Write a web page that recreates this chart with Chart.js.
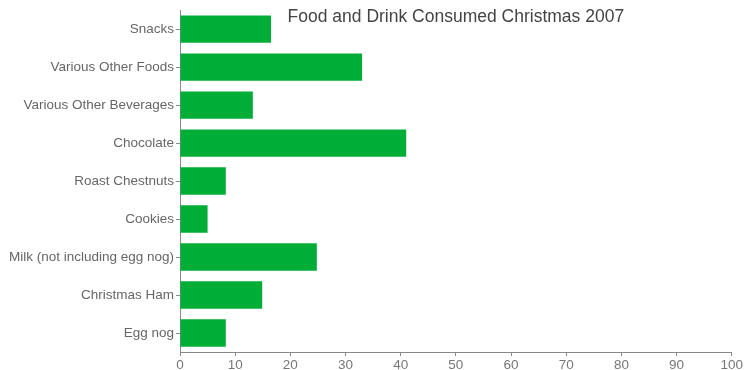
<!DOCTYPE html>
<html>
<head>
<meta charset="utf-8">
<script src="https://cdn.jsdelivr.net/npm/chart.js@4"></script>
<style>
  html, body { margin: 0; padding: 0; background: #fff; }
  #wrap { width: 744px; height: 370px; }
</style>
</head>
<body>
<div id="wrap"><canvas id="chart" width="744" height="370"></canvas></div>
<script>
const categories = [
  "Snacks",
  "Various Other Foods",
  "Various Other Beverages",
  "Chocolate",
  "Roast Chestnuts",
  "Cookies",
  "Milk (not including egg nog)",
  "Christmas Ham",
  "Egg nog"
];
const consumed = [16.5, 33, 13.2, 41, 8.3, 5, 24.8, 14.9, 8.3];
const xTicks = [0, 10, 20, 30, 40, 50, 60, 70, 80, 90, 100];
const chartTitle = "Food and Drink Consumed Christmas 2007";

/* ---------------- TITLE INSIDE PLOT ---------------- */
const innerTitle = {
  id: "innerTitle",
  afterDraw(chart) {
    const { ctx, chartArea } = chart;
    ctx.save();
    ctx.font = "17.5px 'Liberation Sans', Arial, sans-serif";
    ctx.fillStyle = "#444";
    ctx.textAlign = "center";
    ctx.textBaseline = "middle";
    ctx.fillText(chartTitle, (chartArea.left + chartArea.right) / 2, 17);
    ctx.restore();
  },
};

const tickFont = { family: "'Liberation Sans', Arial, sans-serif", size: 13.5 };

new Chart(document.getElementById("chart"), {
  type: "bar",
  data: {
    labels: categories,
    datasets: [
      {
        data: consumed,
        backgroundColor: "#00ad36",
        borderWidth: 0,
        categoryPercentage: 1,
        barPercentage: 0.72,
      },
    ],
  },
  options: {
    indexAxis: "y",
    responsive: false,
    animation: false,
    layout: { padding: { top: 8, right: 12, bottom: 0, left: 0 } },
    plugins: { legend: { display: false }, tooltip: { enabled: false } },
    scales: {
      x: {
        min: 0,
        max: 100,
        afterBuildTicks(axis) {
          axis.ticks = xTicks.map((v) => ({ value: v }));
        },
        afterFit(axis) {
          axis.height = 18;
        },
        border: { color: "#888" },
        grid: { drawOnChartArea: false, tickLength: 4, color: "#888" },
        ticks: { color: "#777", font: tickFont, padding: 1 },
      },
      y: {
        afterFit(axis) {
          axis.width = 180;
        },
        border: { color: "#888" },
        grid: { drawOnChartArea: false, tickLength: 4, color: "#888", offset: false },
        ticks: { color: "#666", font: tickFont, padding: 2 },
      },
    },
  },
  plugins: [innerTitle],
});
</script>
</body>
</html>
